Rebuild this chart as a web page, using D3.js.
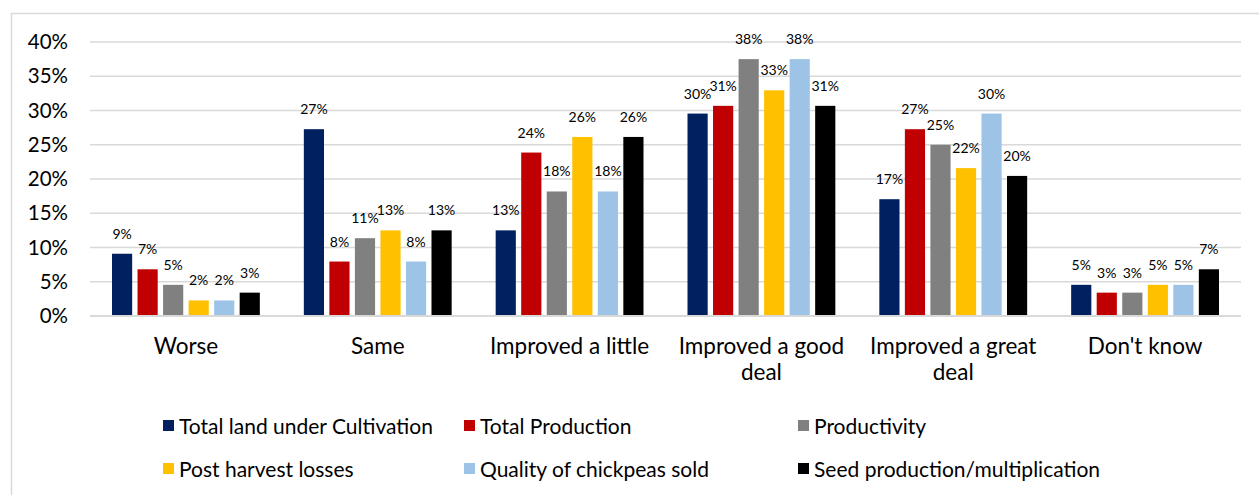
<!DOCTYPE html>
<html><head><meta charset="utf-8">
<script src="https://cdn.jsdelivr.net/npm/d3@7/dist/d3.min.js"></script>
<style>
html,body{margin:0;padding:0;background:#fff;}
svg{display:block;font-family:"Lato","Noto Sans",sans-serif;}
</style></head>
<body>
<svg id="chart" width="1259" height="495"></svg>
<script>
const categories = ["Worse","Same","Improved a little","Improved a good deal","Improved a great deal","Don't know"];
const seriesNames = ["Total land under Cultivation","Total Production","Productivity","Post harvest losses","Quality of chickpeas sold","Seed production/multiplication"];
const seriesColors = ["#002060","#C00000","#808080","#FFC000","#9DC3E6","#000000"];
// values in percent, one array per series (order of categories)
const totalLand     = [9.09, 27.27, 12.50, 29.55, 17.05, 4.55];
const totalProd     = [6.82, 7.95, 23.86, 30.68, 27.27, 3.41];
const productivity  = [4.55, 11.36, 18.18, 37.50, 25.00, 3.41];
const postHarvest   = [2.27, 12.50, 26.14, 32.95, 21.59, 4.55];
const quality       = [2.27, 7.95, 18.18, 37.50, 29.55, 4.55];
const seedProd      = [3.41, 12.50, 26.14, 30.68, 20.45, 6.82];
const seriesValues = [totalLand, totalProd, productivity, postHarvest, quality, seedProd];
const yTicks = [0,5,10,15,20,25,30,35,40];

const svg = d3.select("#chart");
const pLeft = 90, pRight = 1241, pTop = 42, pBottom = 316;

// outer chart border
svg.append("rect").attr("x",11.5).attr("y",13.5).attr("width",1300).attr("height",600)
  .attr("fill","none").attr("stroke","#d9d9d9").attr("stroke-width",1.5);

const x0 = d3.scaleBand().domain(categories).range([pLeft,pRight]).padding(0);
const x1 = d3.scaleBand().domain(d3.range(seriesNames.length))
  .range([22, x0.bandwidth()-22]).paddingInner(0.21).paddingOuter(0);
const y = d3.scaleLinear().domain([0,40]).range([pBottom,pTop]);

// gridlines
svg.append("g").selectAll("line").data(yTicks).join("line")
  .attr("x1",pLeft).attr("x2",pRight)
  .attr("y1",d=>y(d)).attr("y2",d=>y(d))
  .attr("stroke","#d9d9d9").attr("stroke-width",1.5);

// y axis labels
const yAxis = d3.axisLeft(y).tickValues(yTicks).tickFormat(d=>d+"%").tickSize(0).tickPadding(0);
const ya = svg.append("g").attr("transform","translate(68,0)").call(yAxis);
ya.select(".domain").remove();
ya.selectAll("text").attr("font-size",20.5).attr("fill","#000").attr("font-family","Lato, 'Noto Sans', sans-serif");

// bars
const groups = svg.append("g").selectAll("g").data(categories).join("g")
  .attr("transform",d=>`translate(${x0(d)},0)`);
groups.each(function(cat,ci){
  const g = d3.select(this);
  const data = seriesValues.map((vals,si)=>({si, v: vals[ci]}));
  g.selectAll("rect").data(data).join("rect")
    .attr("x",d=>x1(d.si)).attr("width",x1.bandwidth())
    .attr("y",d=>y(d.v)).attr("height",d=>y(0)-y(d.v))
    .attr("fill",d=>seriesColors[d.si]);
  g.selectAll("text").data(data).join("text")
    .attr("x",d=>x1(d.si)+x1.bandwidth()/2)
    .attr("y",d=>y(d.v)-15)
    .attr("text-anchor","middle").attr("font-size",14).attr("fill","#000")
    .text(d=>Math.round(d.v)+"%");
});

// baseline
svg.append("line").attr("x1",pLeft).attr("x2",pRight).attr("y1",y(0)).attr("y2",y(0))
  .attr("stroke","#d9d9d9").attr("stroke-width",2);

// category labels with wrapping
const xa = svg.append("g");
categories.forEach(cat=>{
  const cx = x0(cat)+x0.bandwidth()/2;
  const t = xa.append("text").attr("x",cx).attr("y",354).attr("text-anchor","middle")
    .attr("font-size",22.5).attr("fill","#000");
  const words = cat.split(" ");
  let line = [], lineNo = 0;
  let tspan = t.append("tspan").attr("x",cx).attr("y",354);
  words.forEach(w=>{
    line.push(w);
    tspan.text(line.join(" "));
    if (tspan.node().getComputedTextLength() > 182 && line.length>1){
      line.pop(); tspan.text(line.join(" "));
      line=[w]; lineNo++;
      tspan = t.append("tspan").attr("x",cx).attr("y",354+lineNo*26).text(w);
    }
  });
});

// legend
const legCols = [163, 464, 798];
const legRows = [434, 477];
const leg = svg.append("g");
seriesNames.forEach((name,i)=>{
  const cx = legCols[i%3], cy = legRows[Math.floor(i/3)];
  leg.append("rect").attr("x",cx).attr("y",cy-14).attr("width",11).attr("height",11).attr("fill",seriesColors[i]);
  leg.append("text").attr("x",cx+16).attr("y",cy).attr("font-size",21).attr("fill","#000").text(name);
});
</script>
</body></html>
